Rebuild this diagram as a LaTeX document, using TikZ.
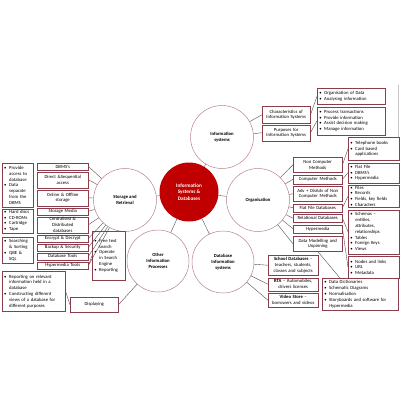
\documentclass[tikz,border=0pt]{standalone}
\usepackage{fontspec}
\setmainfont{Carlito}
\usepackage{tikz}
\usetikzlibrary{positioning}
\usepackage{xcolor}

\definecolor{hubred}{RGB}{192,0,0}
\definecolor{ringline}{RGB}{185,130,140}
\definecolor{boxline}{RGB}{140,60,75}
\definecolor{wiregray}{RGB}{80,80,80}

\newcommand{\bpt}{\makebox[5pt][l]{\textbullet}}
\newcommand{\bgap}{\hspace*{5pt}}

\begin{document}
\begin{tikzpicture}[x=1pt, y=-1pt,
    node distance=2pt,
    font=\fontsize{4.7}{5.8}\selectfont,
    hub/.style={circle, fill=hubred, text=white, font=\fontsize{5.2}{6.4}\selectfont\bfseries, minimum size=59pt, inner sep=0pt, align=center},
    topic/.style={circle, draw=ringline, line width=0.5pt, fill=white, minimum size=63pt, inner sep=0pt, align=center, font=\fontsize{4.7}{5.8}\selectfont\bfseries},
    item/.style={rectangle, draw=boxline, line width=0.5pt, fill=white, inner xsep=1pt, inner ysep=0.3pt, align=center, anchor=north west},
    note/.style={rectangle, draw=boxline, line width=0.5pt, fill=white, inner xsep=2pt, inner ysep=0.3pt, align=left, anchor=north west},
    wire/.style={draw=wiregray, line width=0.4pt}
]
\useasboundingbox (0,0) rectangle (400,400);
\draw[gray!45, line width=0.6pt] (398,85) -- (398,137);

% Hub and topics
\node[hub] (hub) at (189,192) {Information\\Systems \&\\Databases};
\node[topic] (infosys) at (222,137) {Information\\systems};
\node[topic] (storage) at (125,200) {Storage and\\Retrieval};
\node[topic] (organisation) at (258,200) {Organisation};
\node[topic, minimum size=62pt] (other) at (158,261) {Other\\Information\\Processes};
\node[topic, minimum size=62pt] (dbis) at (223,262) {Database\\Information\\systems};

% Information systems
\node[item, text width=46pt, minimum height=17pt] (characteristics) at (262,106) {Characteristics of\\Information Systems};
\node[item, text width=46pt, minimum height=16pt, below=1pt of characteristics] (purposes) {Purposes for\\Information Systems};
\node[note, text width=64pt, minimum height=16pt] (orgdata) at (317,88) {\bpt Organisation of Data\\\bpt Analysing information};
\node[note, text width=64pt, minimum height=28pt, below=2pt of orgdata] (process) {\bpt Process transactions\\\bpt Provide information\\\bpt Assist decision making\\\bpt Manage information};

% Organisation
\node[item, text width=47pt, minimum height=15pt] (noncomp) at (293,157) {Non Computer\\Methods};
\node[item, text width=47pt, minimum height=9pt, below=of noncomp] (compmeth) {Computer Methods};
\node[item, text width=47pt, minimum height=15pt, below=of compmeth] (advdis) {Adv + DisAdv of Non\\Computer Methods};
\node[item, text width=47pt, minimum height=8pt, below=of advdis] (flatdb) {Flat File Databases};
\node[item, text width=47pt, minimum height=8pt, below=of flatdb] (reldb) {Relational Databases};
\node[item, text width=47pt, minimum height=8pt, below=of reldb] (hyper) {Hypermedia};
\node[item, text width=47pt, minimum height=15pt, below=3pt of hyper] (datamod) {Data Modelling and\\Unpinning};

\node[note, text width=47pt, minimum height=23pt] (phone) at (348,137) {\bpt Telephone books\\\bpt Card based\\\bgap applications};
\node[note, text width=47pt, minimum height=20pt, below=of phone] (flatlist) {\bpt Flat File\\\bpt DBMS's\\\bpt Hypermedia};
\node[note, text width=47pt, minimum height=22pt, below=of flatlist] (filelist) {\bpt Files\\\bpt Records\\\bpt Fields, key fields\\\bpt Characters};
\node[note, text width=47pt, minimum height=44pt, below=of filelist] (schemas) {\bpt Schemas --\\\bgap entities,\\\bgap attributes,\\\bgap relationships\\\bpt Tables\\\bpt Foreign Keys\\\bpt Views};
\node[note, text width=47pt, minimum height=22pt, below=of schemas] (nodes) {\bpt Nodes and links\\\bpt URL\\\bpt Metadata};
\node[note, text width=72pt, minimum height=32pt] (datadict) at (322,278) {\bpt Data Dictionaries\\\bpt Schematic Diagrams\\\bpt Normalisation\\\bpt Storyboards and software for\\\bgap Hypermedia};

% Database information systems
\node[item, text width=48pt, minimum height=20pt] (school) at (268,255) {\textbf{School Databases} --\\teachers, students,\\classes and subjects};
\node[item, text width=48pt, minimum height=13pt, below=of school] (rta) {\textbf{RTA} -- Automobiles,\\drivers licenses};
\node[item, text width=48pt, minimum height=14pt, below=of rta] (video) {\textbf{Video Store} --\\borrowers and videos};

% Storage and retrieval
\node[item, text width=49pt, minimum height=6.5pt] (dbms) at (37,163) {DBMS's};
\node[item, text width=49pt, minimum height=16pt, below=1.5pt of dbms] (direct) {Direct \&Sequential\\access};
\node[item, text width=49pt, minimum height=16pt, below=1.5pt of direct] (online) {Online \& Offline\\storage};
\node[item, text width=49pt, minimum height=7pt, below=1.5pt of online] (media) {Storage Media};
\node[item, text width=49pt, minimum height=16pt, below=1.5pt of media] (central) {Centralised \&\\Distributed\\databases};
\node[item, text width=49pt, minimum height=7pt, below=1.5pt of central] (encrypt) {Encrypt \& Decrypt};
\node[item, text width=49pt, minimum height=7pt, below=1.5pt of encrypt] (backup) {Backup \& Security};
\node[item, text width=49pt, minimum height=7pt, below=1.5pt of backup] (dbtools) {Database Tools};
\node[item, text width=49pt, minimum height=7pt, below=1.5pt of dbtools] (hmtools) {Hypermedia Tools};

\node[note, text width=27pt, minimum height=44pt] (provide) at (2,163) {\bpt Provide\\\bgap access to\\\bgap database\\\bpt Data\\\bgap separate\\\bgap from the\\\bgap DBMS};
\node[note, text width=27pt, minimum height=24pt, below=1pt of provide] (hard) {\bpt Hard discs\\\bpt CD-ROMs\\\bpt Cartridge\\\bpt Tape};
\node[note, text width=27pt, minimum height=26pt] (search) at (2,237) {\bpt Searching\\\bgap \& Sorting\\\bpt QBE \&\\\bgap SQL};
\node[note, text width=29pt, minimum height=49pt] (freetext) at (92,231) {\bpt Free text\\\bgap search\\\bpt Operate\\\bgap in Search\\\bgap Engine\\\bpt Reporting};

% Other information processes
\node[note, text width=59pt, minimum height=40pt] (reporting) at (2,271) {\bpt Reporting on relevant\\\bgap information held in a\\\bgap database\\\bpt Constructing different\\\bgap views of a database for\\\bgap different purposes};
\node[item, text width=46pt, minimum height=15pt] (displaying) at (70,297) {Displaying};

% Lines
\draw[wire] (hub) -- (infosys);
\draw[wire] (hub) -- (storage);
\draw[wire] (hub) -- (organisation);
\draw[wire] (hub) -- (other);
\draw[wire] (hub) -- (dbis);

\draw[wire] (infosys) -- (characteristics.west);
\draw[wire] (infosys) -- (purposes.west);
\draw[wire] (characteristics.east) -- (orgdata.west);
\draw[wire] (purposes.east) -- (process.west);

\draw[wire] (organisation) -- (noncomp.west);
\draw[wire] (organisation) -- (compmeth.west);
\draw[wire] (organisation) -- (advdis.west);
\draw[wire] (organisation) -- (flatdb.west);
\draw[wire] (organisation) -- (reldb.west);
\draw[wire] (organisation) -- (hyper.west);
\draw[wire] (organisation) -- (datamod.west);
\draw[wire] (noncomp.east) -- (phone.west);
\draw[wire] (compmeth.east) -- (flatlist.west);
\draw[wire] (flatdb.east) -- (filelist.west);
\draw[wire] (reldb.east) -- (schemas.west);
\draw[wire] (hyper.east) -- (nodes.west);
\draw[wire] (datamod.south) -- ([xshift=18pt]datadict.north west);

\draw[wire] (dbis) -- (school.west);
\draw[wire] (dbis) -- (rta.west);
\draw[wire] (dbis) -- (video.west);

\draw[wire] (storage) -- (dbms.east);
\draw[wire] (storage) -- (direct.east);
\draw[wire] (storage) -- (online.east);
\draw[wire] (storage) -- (media.east);
\draw[wire] (storage) -- (central.east);
\draw[wire] (storage) -- (encrypt.east);
\draw[wire] (storage) -- (backup.east);
\draw[wire] (storage) -- (dbtools.east);
\draw[wire] (storage) -- (hmtools.east);
\draw[wire] (hmtools.east) -- (freetext.west);

\draw[wire] (other) -- (displaying.east);
\draw[wire] (reporting.east) -- (displaying.west);

\end{tikzpicture}
\end{document}
